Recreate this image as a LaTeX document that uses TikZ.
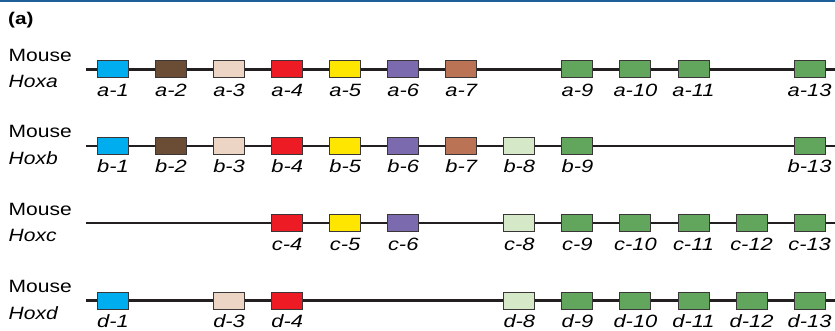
\documentclass[tikz,border=0pt]{standalone}
\usepackage{graphicx}
\usepackage{fontspec}
\setmainfont{Liberation Sans}
\definecolor{topbar}{HTML}{1F5F99}
\definecolor{backbone}{HTML}{231F20}
\definecolor{boxline}{HTML}{3A3536}
\definecolor{g1}{HTML}{00AEEF}
\definecolor{g2}{HTML}{6B4C35}
\definecolor{g3}{HTML}{EDD5C6}
\definecolor{g4}{HTML}{ED1C24}
\definecolor{g5}{HTML}{FFE600}
\definecolor{g6}{HTML}{7B6AAD}
\definecolor{g7}{HTML}{BA7455}
\definecolor{g8}{HTML}{D5E8C8}
\definecolor{g9}{HTML}{62A55C}
\colorlet{g10}{g9}
\colorlet{g11}{g9}
\colorlet{g12}{g9}
\colorlet{g13}{g9}
\newcommand{\wlbl}[1]{\scalebox{1.23}[1]{#1}}
\newcommand{\wspec}[1]{\scalebox{1.18}[1]{#1}}
\newcommand{\hoxrow}[3]{%
  \coordinate (#1s) at (86,#2);
  \coordinate (#1e) at (835,#2);
  \draw[chrom] (#1s) -- (#1e);
  \node[spec] (#1m) at (8.5,#2-8) {\wspec{Mouse}};
  \node[spec, font=\itshape\fontsize{17.8}{19}\selectfont] (#1h) at (8.5,#2+18.5) {\wspec{Hox#1}};
  \foreach \k in {#3} {
    \pgfmathsetmacro{\xx}{113+58.05*(\k-1)}
    \node[genebox, fill=g\k] (#1\k) at (\xx,#2) {};
    \node[genelbl] (#1\k l) at (\xx,#2+27) {\wlbl{#1-\k}};
  }
}
\begin{document}
\begin{tikzpicture}[x=1pt,y=-1pt,
  genebox/.style={draw=boxline, line width=1pt, rectangle, minimum width=31pt, minimum height=17pt, inner sep=0pt},
  genelbl/.style={anchor=base, inner sep=0pt, font=\itshape\fontsize{17.8}{19}\selectfont},
  spec/.style={anchor=base west, inner sep=0pt, font=\fontsize{17.8}{19}\selectfont},
  chrom/.style={line width=2.3pt, draw=backbone}]
\useasboundingbox (0,0) rectangle (835,331);
\fill[topbar] (0,0) rectangle (835,2.5);
\node[anchor=base west, inner sep=0pt, font=\bfseries\fontsize{17}{19}\selectfont] (title) at (8,25) {\scalebox{1.22}[1]{(a)}};
\hoxrow{a}{69.5}{1,2,3,4,5,6,7,9,10,11,13}
\hoxrow{b}{146}{1,2,3,4,5,6,7,8,9,13}
\hoxrow{c}{223}{4,5,6,8,9,10,11,12,13}
\hoxrow{d}{300.5}{1,3,4,8,9,10,11,12,13}
\end{tikzpicture}
\end{document}
